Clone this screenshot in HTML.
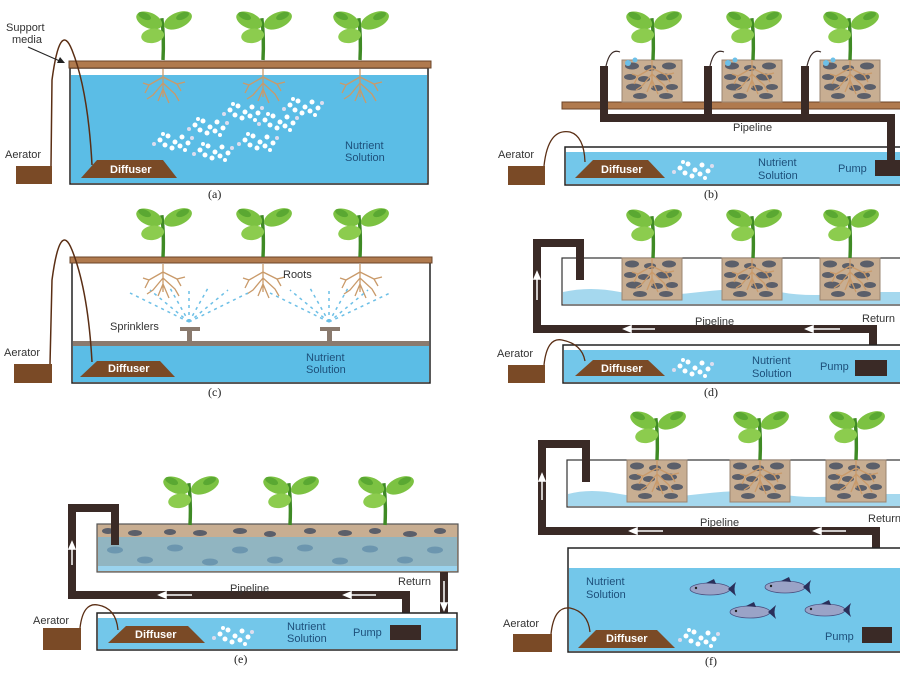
<!DOCTYPE html>
<html><head><meta charset="utf-8"><style>
html,body{margin:0;padding:0;background:#fff;}
svg{display:block;}
text{font-family:"Liberation Sans",sans-serif;font-size:11px;fill:#333;}
.ns{fill:#1d4f7a;}
.wt{fill:#fff;font-weight:bold;font-size:11px;}
.cap{font-family:"Liberation Serif",serif;font-size:12px;fill:#222;}
</style></head><body>
<svg width="900" height="675" viewBox="0 0 900 675" xmlns="http://www.w3.org/2000/svg">
<defs>
 <g id="plant"><g transform="scale(1.15 1.1)">
  <path d="M0 0 Q1 -20 -1 -38" stroke="#3f8a25" stroke-width="3" fill="none"/>
  <ellipse cx="-12" cy="-36" rx="12" ry="7" fill="#7cc242" transform="rotate(25 -12 -36)"/>
  <ellipse cx="13" cy="-36" rx="13" ry="7" fill="#7cc242" transform="rotate(-25 13 -36)"/>
  <ellipse cx="-9" cy="-22" rx="10" ry="6.5" fill="#8ccc4e" transform="rotate(-10 -9 -22)"/>
  <ellipse cx="-16" cy="-40" rx="6" ry="3" fill="#5aa832" transform="rotate(25 -16 -40)"/>
  <ellipse cx="17" cy="-40" rx="6" ry="3" fill="#5aa832" transform="rotate(-25 17 -40)"/>
 </g></g>
 <g id="roots" stroke="#c99a6a" stroke-width="1.3" fill="none">
  <path d="M0 0 L0 28 M0 8 L-14 16 L-20 14 M0 8 L14 15 L22 13 M0 14 L-10 26 L-16 30 M0 14 L12 25 L16 32 M0 20 L-5 32 M0 20 L6 34 M-14 16 L-18 24 M14 15 L18 22"/>
 </g>
 <g id="media">
  <rect x="0" y="0" width="60" height="42" fill="#c8ae92" stroke="#9a8470" stroke-width="1"/>
  <g fill="#5b5f6a">
   <ellipse cx="10" cy="6" rx="7" ry="3.5"/><ellipse cx="28" cy="8" rx="6" ry="3"/><ellipse cx="47" cy="6" rx="7" ry="3.5"/>
   <ellipse cx="8" cy="17" rx="6" ry="3"/><ellipse cx="22" cy="19" rx="6" ry="3"/><ellipse cx="42" cy="17" rx="8" ry="3.5"/>
   <ellipse cx="12" cy="27" rx="8" ry="3.5"/><ellipse cx="35" cy="28" rx="6" ry="3"/><ellipse cx="50" cy="27" rx="6" ry="3"/>
   <ellipse cx="18" cy="36" rx="7" ry="3"/><ellipse cx="44" cy="36" rx="7" ry="3"/>
  </g>
  <use href="#roots" x="30" y="0"/>
 </g>
 <g id="bub" fill="#fff">
  <circle cx="0" cy="0" r="2.5"/><circle cx="8" cy="-4" r="2.5"/><circle cx="15" cy="2" r="2.5"/><circle cx="22" cy="-3" r="2.5"/>
  <circle cx="5" cy="5" r="2.5"/><circle cx="12" cy="8" r="2.5"/><circle cx="20" cy="6" r="2.5"/><circle cx="28" cy="3" r="2.5"/>
  <circle cx="-6" cy="4" r="2" fill="#dde"/><circle cx="32" cy="-2" r="2" fill="#dde"/><circle cx="25" cy="10" r="2"/><circle cx="3" cy="-6" r="2"/>
 </g>
 <g id="fish">
  <ellipse cx="0" cy="0" rx="20" ry="6" fill="#9aa3c7" stroke="#4a5080" stroke-width="0.8"/>
  <path d="M18 0 L26 -7 Q23 0 26 7 Z" fill="#2a2f5a"/>
  <path d="M-4 -6 L4 -10 L6 -5 Z" fill="#2a2f5a"/>
  <circle cx="-14" cy="-1" r="1.2" fill="#222"/>
 </g>
</defs>

<!-- ===== (a) ===== -->
<rect x="70" y="68" width="358" height="116" fill="#fff" stroke="#222" stroke-width="1.5"/>
<rect x="71" y="75" width="356" height="108" fill="#5bbde6"/>
<rect x="69" y="61" width="362" height="7" fill="#b07a4e" stroke="#6b4428" stroke-width="1"/>
<use href="#roots" x="163" y="69"/><use href="#roots" x="263" y="69"/><use href="#roots" x="360" y="69"/>
<use href="#plant" x="163" y="60"/><use href="#plant" x="263" y="60"/><use href="#plant" x="360" y="60"/>
<g fill="#fff">
 <use href="#bub" x="160" y="140"/><use href="#bub" x="195" y="125"/><use href="#bub" x="230" y="110"/><use href="#bub" x="265" y="120"/><use href="#bub" x="290" y="105"/><use href="#bub" x="200" y="150"/><use href="#bub" x="245" y="140"/>
</g>
<rect x="16" y="166" width="36" height="18" fill="#7a4a26"/>
<path d="M51 166 L52 80 Q60 20 72 50 Q88 90 92 165" stroke="#5a2e14" stroke-width="1.5" fill="none"/>
<polygon points="81,178 177,178 163,160 97,160" fill="#7a4a26"/>
<text x="110" y="173" class="wt">Diffuser</text>
<text x="6" y="31">Support</text><text x="12" y="43">media</text>
<path d="M28 47 L62 62" stroke="#222" stroke-width="1"/><polygon points="65,63 57,63 60,57" fill="#222"/>
<text x="5" y="158">Aerator</text>
<text x="345" y="149" class="ns">Nutrient</text><text x="345" y="161" class="ns">Solution</text>
<text x="208" y="198" class="cap">(a)</text>

<!-- ===== (b) ===== -->
<rect x="565" y="147" width="340" height="38" fill="#fff" stroke="#222" stroke-width="1.5"/>
<rect x="566" y="152" width="338" height="32" fill="#73c7ea"/>
<rect x="562" y="102" width="340" height="7" fill="#b07a4e" stroke="#6b4428" stroke-width="1"/>
<use href="#media" x="622" y="60"/><use href="#media" x="722" y="60"/><use href="#media" x="820" y="60"/>
<use href="#plant" x="653" y="60"/><use href="#plant" x="753" y="60"/><use href="#plant" x="850" y="60"/>
<g fill="none" stroke="#3a2a26" stroke-width="8">
 <path d="M604 66 L604 118 L891 118 L891 165"/>
 <path d="M708 66 L708 118 M805 66 L805 118"/>
</g>
<g fill="none" stroke="#3a2a26" stroke-width="1.2">
 <path d="M606 66 Q610 48 620 52"/><path d="M710 66 Q714 48 724 52"/><path d="M807 66 Q811 48 821 52"/>
</g>
<g fill="#6cc0e8"><circle cx="628" cy="63" r="3"/><circle cx="635" cy="60" r="2.5"/><circle cx="728" cy="63" r="3"/><circle cx="735" cy="60" r="2.5"/><circle cx="826" cy="63" r="3"/><circle cx="833" cy="60" r="2.5"/></g>
<rect x="875" y="160" width="28" height="16" fill="#3a2a26"/>
<rect x="508" y="166" width="37" height="19" fill="#7a4a26"/>
<path d="M544 166 Q548 128 570 132 Q584 136 585 162" stroke="#5a2e14" stroke-width="1.3" fill="none"/>
<polygon points="575,178 665,178 648,160 593,160" fill="#7a4a26"/>
<text x="601" y="173" class="wt">Diffuser</text>
<use href="#bub" x="680" y="168"/>
<text x="733" y="131">Pipeline</text>
<text x="758" y="166" class="ns">Nutrient</text><text x="758" y="179" class="ns">Solution</text>
<text x="838" y="172" class="ns">Pump</text>
<text x="498" y="158">Aerator</text>
<text x="704" y="198" class="cap">(b)</text>

<!-- ===== (c) ===== -->
<rect x="72" y="259" width="358" height="124" fill="#fff" stroke="#222" stroke-width="1.5"/>
<rect x="73" y="346" width="356" height="36" fill="#5bbde6"/>
<rect x="73" y="341" width="356" height="5" fill="#8a7a6e"/>
<rect x="70" y="257" width="362" height="6" fill="#b07a4e" stroke="#6b4428" stroke-width="1"/>
<use href="#roots" x="163" y="264"/><use href="#roots" x="263" y="264"/><use href="#roots" x="360" y="264"/>
<use href="#plant" x="163" y="257"/><use href="#plant" x="263" y="257"/><use href="#plant" x="360" y="257"/>
<g stroke="#6cbfe6" stroke-width="1.5" stroke-dasharray="3 4" fill="none">
 <path d="M189 322 L130 293 M189 322 L150 290 M189 322 L170 288 M189 322 L189 288 M189 322 L208 288 M189 322 L228 290 M189 322 L248 293"/>
 <path d="M329 322 L270 293 M329 322 L290 290 M329 322 L310 288 M329 322 L329 288 M329 322 L348 288 M329 322 L368 290 M329 322 L390 293"/>
</g>
<g fill="#8a7a6e"><rect x="180" y="327" width="20" height="4"/><rect x="187" y="327" width="5" height="14"/><rect x="320" y="327" width="20" height="4"/><rect x="327" y="327" width="5" height="14"/></g>
<rect x="14" y="364" width="38" height="19" fill="#7a4a26"/>
<path d="M50 364 L52 280 Q60 220 72 250 Q88 290 92 362" stroke="#5a2e14" stroke-width="1.5" fill="none"/>
<polygon points="80,377 175,377 160,361 97,361" fill="#7a4a26"/>
<text x="108" y="372" class="wt">Diffuser</text>
<text x="283" y="278">Roots</text>
<text x="110" y="330">Sprinklers</text>
<text x="306" y="361" class="ns">Nutrient</text><text x="306" y="373" class="ns">Solution</text>
<text x="4" y="356">Aerator</text>
<text x="208" y="396" class="cap">(c)</text>

<!-- ===== (d) ===== -->
<rect x="562" y="258" width="345" height="47" fill="#fff" stroke="#333" stroke-width="1.2"/>
<path d="M563 292 Q590 286 620 292 T700 292 T780 292 T860 292 L906 292 L906 304 L563 304 Z" fill="#a5d8ee"/>
<use href="#media" x="622" y="258"/><use href="#media" x="722" y="258"/><use href="#media" x="820" y="258"/>
<use href="#plant" x="653" y="258"/><use href="#plant" x="753" y="258"/><use href="#plant" x="850" y="258"/>
<path d="M580 280 L580 243 L537 243 L537 329 L873 329 L873 362" fill="none" stroke="#3a2a26" stroke-width="8"/>
<g stroke="#fff" stroke-width="1.5" fill="#fff">
 <path d="M537 300 L537 276"/><polygon points="537,272 534,279 540,279"/>
 <path d="M628 329 L655 329"/><polygon points="624,329 631,326 631,332"/>
 <path d="M810 329 L840 329"/><polygon points="806,329 813,326 813,332"/>
</g>
<rect x="563" y="345" width="342" height="38" fill="#fff" stroke="#222" stroke-width="1.5"/>
<rect x="564" y="350" width="340" height="32" fill="#73c7ea"/>
<rect x="855" y="360" width="32" height="16" fill="#3a2a26"/>
<rect x="508" y="365" width="37" height="18" fill="#7a4a26"/>
<path d="M544 365 Q547 337 562 340 Q582 344 585 361" stroke="#5a2e14" stroke-width="1.3" fill="none"/>
<polygon points="575,376 665,376 648,360 593,360" fill="#7a4a26"/>
<text x="601" y="372" class="wt">Diffuser</text>
<use href="#bub" x="680" y="366"/>
<text x="695" y="325">Pipeline</text>
<text x="862" y="322">Return</text>
<text x="752" y="364" class="ns">Nutrient</text><text x="752" y="377" class="ns">Solution</text>
<text x="820" y="370" class="ns">Pump</text>
<text x="497" y="357">Aerator</text>
<text x="704" y="396" class="cap">(d)</text>

<!-- ===== (e) ===== -->
<rect x="97" y="524" width="361" height="48" fill="#c8ae92" stroke="#555" stroke-width="1.2"/>
<g fill="#5b5f6a">
 <ellipse cx="108" cy="531" rx="6" ry="3"/><ellipse cx="135" cy="533" rx="7" ry="3"/><ellipse cx="170" cy="532" rx="6" ry="3"/><ellipse cx="200" cy="533" rx="7" ry="3"/><ellipse cx="240" cy="531" rx="7" ry="3"/><ellipse cx="270" cy="534" rx="6" ry="3"/><ellipse cx="310" cy="531" rx="6" ry="3"/><ellipse cx="345" cy="533" rx="7" ry="3"/><ellipse cx="375" cy="531" rx="6" ry="3"/><ellipse cx="410" cy="534" rx="7" ry="3"/><ellipse cx="440" cy="531" rx="6" ry="3"/>
</g>
<rect x="98" y="537" width="359" height="34" fill="#7fb7d0" opacity="0.75"/>
<g fill="#5d8aa8" opacity="0.7">
 <ellipse cx="115" cy="550" rx="8" ry="3.5"/><ellipse cx="145" cy="560" rx="8" ry="3.5"/><ellipse cx="175" cy="548" rx="8" ry="3.5"/><ellipse cx="210" cy="562" rx="8" ry="3.5"/><ellipse cx="240" cy="550" rx="8" ry="3.5"/><ellipse cx="275" cy="560" rx="8" ry="3.5"/><ellipse cx="305" cy="548" rx="8" ry="3.5"/><ellipse cx="340" cy="561" rx="8" ry="3.5"/><ellipse cx="370" cy="549" rx="8" ry="3.5"/><ellipse cx="405" cy="560" rx="8" ry="3.5"/><ellipse cx="435" cy="550" rx="8" ry="3.5"/>
</g>
<rect x="98" y="566" width="359" height="5" fill="#9ad3ee"/>
<use href="#plant" x="190" y="525"/><use href="#plant" x="290" y="525"/><use href="#plant" x="385" y="525"/>
<path d="M115 545 L115 508 L72 508 L72 595 L406 595 L406 627" fill="none" stroke="#3a2a26" stroke-width="8"/>
<path d="M444 572 L444 618" fill="none" stroke="#3a2a26" stroke-width="8"/>
<g stroke="#fff" stroke-width="1.5" fill="#fff">
 <path d="M72 565 L72 546"/><polygon points="72,542 69,549 75,549"/>
 <path d="M163 595 L192 595"/><polygon points="159,595 166,592 166,598"/>
 <path d="M348 595 L376 595"/><polygon points="344,595 351,592 351,598"/>
 <path d="M444 581 L444 606" stroke="#fff"/><polygon points="444,610 441,603 447,603"/>
</g>
<rect x="97" y="613" width="360" height="37" fill="#fff" stroke="#222" stroke-width="1.5"/>
<rect x="98" y="618" width="358" height="31" fill="#73c7ea"/>
<rect x="390" y="625" width="31" height="15" fill="#3a2a26"/>
<rect x="43" y="628" width="38" height="22" fill="#7a4a26"/>
<path d="M80 628 Q83 602 98 605 Q116 608 118 630" stroke="#5a2e14" stroke-width="1.3" fill="none"/>
<polygon points="108,643 205,643 188,626 126,626" fill="#7a4a26"/>
<text x="135" y="638" class="wt">Diffuser</text>
<use href="#bub" x="220" y="634"/>
<text x="230" y="592">Pipeline</text>
<text x="398" y="585">Return</text>
<text x="287" y="630" class="ns">Nutrient</text><text x="287" y="642" class="ns">Solution</text>
<text x="353" y="636" class="ns">Pump</text>
<text x="33" y="624">Aerator</text>
<text x="234" y="663" class="cap">(e)</text>

<!-- ===== (f) ===== -->
<rect x="567" y="460" width="340" height="47" fill="#fff" stroke="#333" stroke-width="1.2"/>
<path d="M568 494 Q590 488 620 494 T700 494 T780 494 T860 494 L906 494 L906 506 L568 506 Z" fill="#a5d8ee"/>
<use href="#media" x="627" y="460"/><use href="#media" x="730" y="460"/><use href="#media" x="826" y="460"/>
<use href="#plant" x="657" y="460"/><use href="#plant" x="760" y="460"/><use href="#plant" x="856" y="460"/>
<path d="M586 482 L586 444 L542 444 L542 531 L876 531 L876 630" fill="none" stroke="#3a2a26" stroke-width="8"/>
<g stroke="#fff" stroke-width="1.5" fill="#fff">
 <path d="M542 500 L542 478"/><polygon points="542,474 539,481 545,481"/>
 <path d="M634 531 L663 531"/><polygon points="630,531 637,528 637,534"/>
 <path d="M818 531 L846 531"/><polygon points="814,531 821,528 821,534"/>
</g>
<rect x="568" y="548" width="337" height="104" fill="#fff" stroke="#222" stroke-width="1.5"/>
<rect x="569" y="568" width="335" height="83" fill="#73c7ea"/>
<rect x="862" y="627" width="30" height="16" fill="#3a2a26"/>
<use href="#fish" x="710" y="589"/><use href="#fish" x="785" y="587"/><use href="#fish" x="750" y="612"/><use href="#fish" x="825" y="610"/>
<rect x="513" y="634" width="39" height="18" fill="#7a4a26"/>
<path d="M551 634 Q554 606 570 608 Q588 612 590 632" stroke="#5a2e14" stroke-width="1.3" fill="none"/>
<polygon points="578,648 675,648 657,630 596,630" fill="#7a4a26"/>
<text x="606" y="642" class="wt">Diffuser</text>
<use href="#bub" x="686" y="636"/>
<text x="700" y="526">Pipeline</text>
<text x="868" y="522">Return</text>
<text x="586" y="585" class="ns">Nutrient</text><text x="586" y="598" class="ns">Solution</text>
<text x="825" y="640" class="ns">Pump</text>
<text x="503" y="627">Aerator</text>
<text x="705" y="665" class="cap">(f)</text>
</svg>
</body></html>
